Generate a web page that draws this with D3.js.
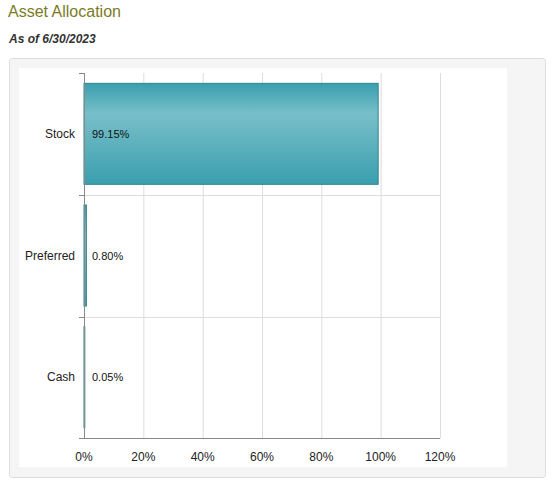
<!DOCTYPE html><html><head><meta charset="utf-8"><script src="https://cdn.jsdelivr.net/npm/d3@7"></script>
<style>body{margin:0;background:#fff;font-family:Arial,"Liberation Sans",sans-serif}</style></head><body><svg id="c" width="554" height="489"></svg>
<script>
const categories=["Stock","Preferred","Cash"];
const values=[99.15,0.80,0.05];
const labels=["99.15%","0.80%","0.05%"];
const ticks=[0,20,40,60,80,100,120];
const svg=d3.select("#c");
svg.append("text").attr("x",8).attr("y",17).attr("font-size",16).attr("fill","#7b7b1f").text("Asset Allocation");
svg.append("text").attr("x",9).attr("y",43).attr("font-size",12).attr("font-weight","bold").attr("font-style","italic").attr("fill","#333").text("As of 6/30/2023");
svg.append("rect").attr("x",9.5).attr("y",58.5).attr("width",536).attr("height",419).attr("rx",3).attr("fill","#f5f5f5").attr("stroke","#ddd");
svg.append("rect").attr("x",19).attr("y",68).attr("width",488).attr("height",399).attr("fill","#fff");
const x=d3.scaleLinear().domain([0,120]).range([84,440]);
const y=d3.scaleBand().domain(categories).range([73,438]).paddingInner(0.17).paddingOuter(0.085);
const defs=svg.append("defs");
const g=defs.append("linearGradient").attr("id","gr").attr("x1",0).attr("y1",0).attr("x2",0).attr("y2",1);
g.append("stop").attr("offset","0%").attr("stop-color","#3a9fae");
g.append("stop").attr("offset","30%").attr("stop-color","#78bfca");
g.append("stop").attr("offset","100%").attr("stop-color","#3a9fae");
// grid
svg.selectAll(".gv").data(ticks.slice(1)).join("line").attr("x1",d=>x(d)+0.5).attr("x2",d=>x(d)+0.5).attr("y1",73).attr("y2",438).attr("stroke","#ddd");
const bounds=[73,195,317,438];
svg.selectAll(".gh").data(bounds.slice(1,3)).join("line").attr("x1",79).attr("x2",440).attr("y1",d=>d+0.5).attr("y2",d=>d+0.5).attr("stroke","#ddd");
svg.selectAll(".tk").data(bounds).join("line").attr("x1",79).attr("x2",84).attr("y1",d=>d+0.5).attr("y2",d=>d+0.5).attr("stroke","#888");
svg.selectAll(".bar").data(values).join("rect").attr("x",x(0)).attr("y",(d,i)=>y(categories[i])).attr("width",d=>Math.max(x(d)-x(0),0.8)).attr("height",y.bandwidth()).attr("fill","url(#gr)").attr("stroke","#2f8390").attr("stroke-width",1);
svg.append("line").attr("x1",84.5).attr("x2",84.5).attr("y1",73).attr("y2",438).attr("stroke","#888");
svg.append("line").attr("x1",84).attr("x2",440).attr("y1",438.5).attr("y2",438.5).attr("stroke","#888");
svg.selectAll(".cl").data(categories).join("text").attr("x",75).attr("y",d=>y(d)+y.bandwidth()/2+4).attr("text-anchor","end").attr("font-size",12).attr("fill","#222").text(d=>d);
svg.selectAll(".vl").data(labels).join("text").attr("x",92).attr("y",(d,i)=>y(categories[i])+y.bandwidth()/2+4).attr("font-size",11).attr("fill","#111").text(d=>d);
svg.selectAll(".xl").data(ticks).join("text").attr("x",d=>x(d)).attr("y",461).attr("text-anchor","middle").attr("font-size",12).attr("fill","#222").text(d=>d+"%");
</script></body></html>
